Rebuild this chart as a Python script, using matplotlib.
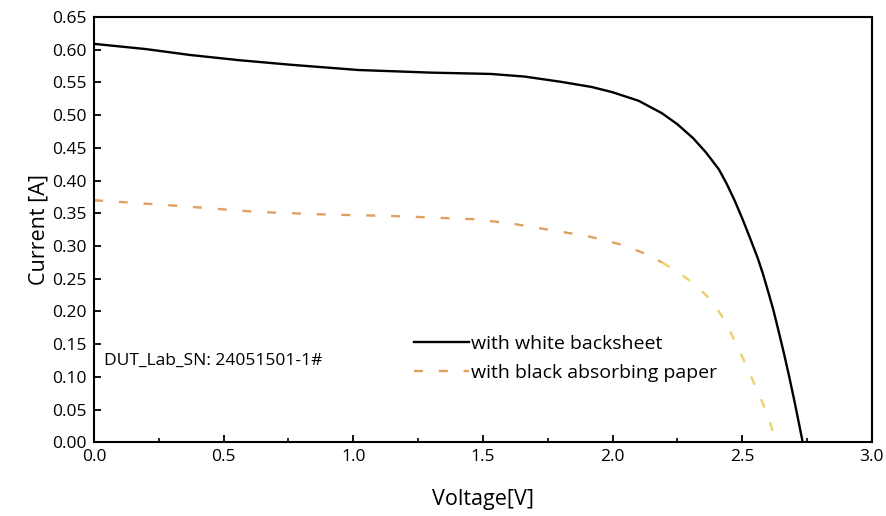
import numpy as np
from matplotlib import pyplot as plt
from matplotlib.ticker import MultipleLocator

plt.rcParams['font.family'] = ['Open Sans', 'DejaVu Sans']

# I-V curve, white backsheet
v_white = [0.0, 0.20, 0.37, 0.56, 0.76, 1.02, 1.30, 1.53, 1.66, 1.80, 1.92, 2.00, 2.10,
           2.19, 2.25, 2.31, 2.36, 2.41, 2.44, 2.47, 2.50, 2.53, 2.56, 2.58, 2.60,
           2.62, 2.64, 2.66, 2.68, 2.70, 2.72, 2.733]
i_white = [0.609, 0.601, 0.592, 0.584, 0.577, 0.569, 0.565, 0.563, 0.559, 0.551, 0.543, 0.535, 0.522,
           0.503, 0.486, 0.465, 0.443, 0.417, 0.395, 0.370, 0.342, 0.312, 0.281, 0.257, 0.230,
           0.202, 0.170, 0.137, 0.102, 0.065, 0.026, 0.0]

# I-V curve, black absorbing paper
v_black = [0.0, 0.30, 0.63, 0.90, 1.14, 1.46, 1.60, 1.72, 1.89, 1.97, 2.05, 2.12, 2.19]
i_black = [0.370, 0.362, 0.352, 0.348, 0.346, 0.341, 0.335, 0.327, 0.316, 0.309, 0.300, 0.289, 0.275]
# tail of the same curve (fades to yellow in the original)
v_black_tail = [2.19, 2.26, 2.32, 2.38, 2.43, 2.47, 2.51, 2.54, 2.57, 2.60, 2.63]
i_black_tail = [0.275, 0.258, 0.240, 0.217, 0.188, 0.156, 0.122, 0.095, 0.068, 0.040, 0.0]

fig = plt.figure(figsize=(8.87, 5.16), dpi=100)
ax = fig.add_axes([0.106, 0.143, 0.877, 0.824])

dash = (0, (3.8, 6.7))
ax.plot(v_white, i_white, color='black', lw=1.7, label='with white backsheet')
ax.plot(v_black, i_black, color='#e0a061', lw=1.7, linestyle=dash,
        label='with black absorbing paper')
ax.plot(v_black_tail, i_black_tail, color='#efd06a', lw=1.7, linestyle=dash)

ax.set_xlim(0, 3.0)
ax.set_ylim(0, 0.65)
ax.xaxis.set_major_locator(MultipleLocator(0.5))
ax.xaxis.set_minor_locator(MultipleLocator(0.25))
ax.yaxis.set_major_locator(MultipleLocator(0.05))
ax.xaxis.set_major_formatter(plt.FormatStrFormatter('%.1f'))
ax.yaxis.set_major_formatter(plt.FormatStrFormatter('%.2f'))
ax.tick_params(which='major', direction='in', length=5, width=1.3, labelsize=12.5, pad=5)
ax.tick_params(which='minor', direction='in', length=3, width=1.2)
for s in ax.spines.values():
    s.set_linewidth(1.5)

ax.set_xlabel('Voltage[V]', fontsize=15.5, labelpad=17)
ax.set_ylabel('Current [A]', fontsize=15.5, labelpad=2)

ax.text(0.04, 0.125, 'DUT_Lab_SN: 24051501-1#', fontsize=12.5, va='center', ha='left')

ax.legend(loc='center left', bbox_to_anchor=(0.389, 0.197), frameon=False,
          fontsize=14, handlelength=2.8, handletextpad=0.1, labelspacing=0.55)

plt.savefig('out.png', dpi=100)
